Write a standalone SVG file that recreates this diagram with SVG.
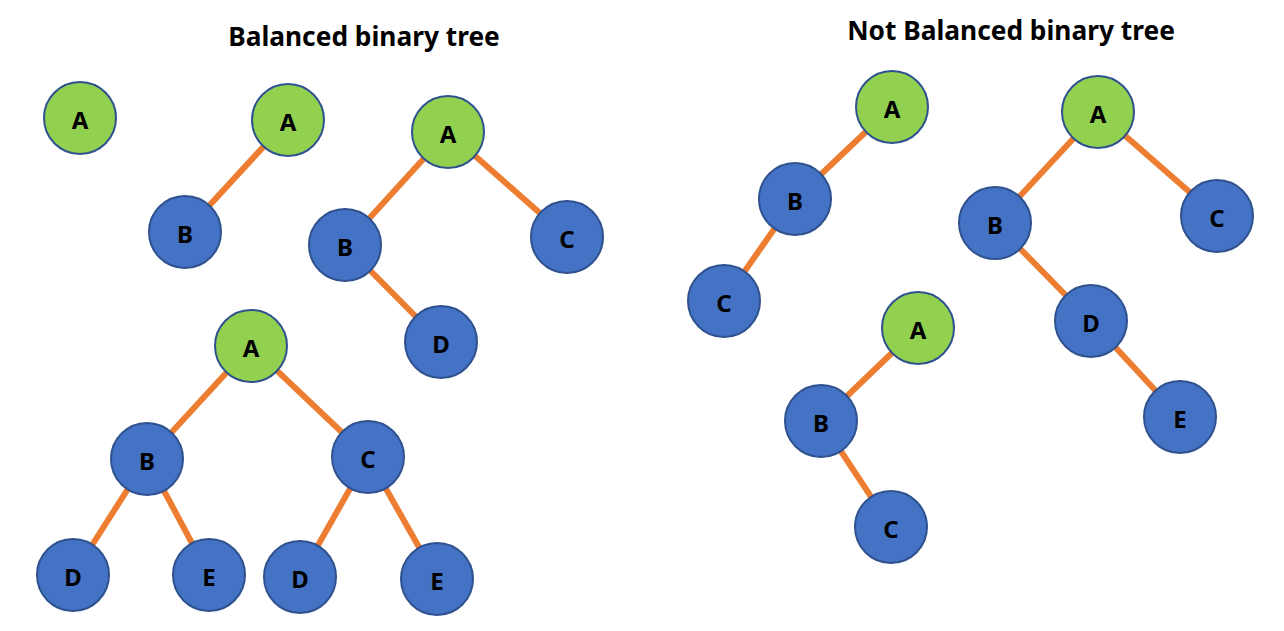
<svg xmlns="http://www.w3.org/2000/svg" width="1284" height="631" viewBox="0 0 1284 631">
<style>
.g{fill:#92D050;stroke:#2F528F;stroke-width:2}
.b{fill:#4472C4;stroke:#2F528F;stroke-width:2}
.t{font-family:"Noto Sans","DejaVu Sans",sans-serif;font-weight:bold;font-size:24px;fill:#000;text-anchor:middle;dominant-baseline:central}
.h{font-family:"Noto Sans","DejaVu Sans",sans-serif;font-weight:bold;font-size:26.3px;fill:#000;text-anchor:middle}
#edges line{stroke:#ED7D31;stroke-width:6}
</style>
<rect width="1284" height="631" fill="#fff"/>
<text class="h" x="364" y="46">Balanced binary tree</text>
<text class="h" x="1011" y="40">Not Balanced binary tree</text>
<g id="edges">
<line x1="288" y1="120" x2="185" y2="232"/>
<line x1="448" y1="132" x2="345" y2="245"/>
<line x1="448" y1="132" x2="567" y2="237"/>
<line x1="345" y1="245" x2="441" y2="342"/>
<line x1="251" y1="346" x2="147" y2="459"/>
<line x1="251" y1="346" x2="368" y2="457"/>
<line x1="147" y1="459" x2="73" y2="575"/>
<line x1="147" y1="459" x2="209" y2="575"/>
<line x1="368" y1="457" x2="300" y2="577"/>
<line x1="368" y1="457" x2="437" y2="579"/>
<line x1="892" y1="107" x2="795" y2="199"/>
<line x1="795" y1="199" x2="724" y2="301"/>
<line x1="918" y1="328" x2="821" y2="421"/>
<line x1="821" y1="421" x2="891" y2="527"/>
<line x1="1098" y1="112" x2="995" y2="223"/>
<line x1="1098" y1="112" x2="1217" y2="216"/>
<line x1="995" y1="223" x2="1091" y2="321"/>
<line x1="1091" y1="321" x2="1180" y2="417"/>
</g>
<g id="t1A"><circle class="g" cx="80" cy="118" r="36"/><text class="t" x="80" y="119">A</text></g>
<g id="t2A"><circle class="g" cx="288" cy="120" r="36"/><text class="t" x="288" y="121">A</text></g>
<g id="t2B"><circle class="b" cx="185" cy="232" r="36"/><text class="t" x="185" y="233">B</text></g>
<g id="t3A"><circle class="g" cx="448" cy="132" r="36"/><text class="t" x="448" y="133">A</text></g>
<g id="t3B"><circle class="b" cx="345" cy="245" r="36"/><text class="t" x="345" y="246">B</text></g>
<g id="t3C"><circle class="b" cx="567" cy="237" r="36"/><text class="t" x="567" y="238">C</text></g>
<g id="t3D"><circle class="b" cx="441" cy="342" r="36"/><text class="t" x="441" y="343">D</text></g>
<g id="t4A"><circle class="g" cx="251" cy="346" r="36"/><text class="t" x="251" y="347">A</text></g>
<g id="t4B"><circle class="b" cx="147" cy="459" r="36"/><text class="t" x="147" y="460">B</text></g>
<g id="t4C"><circle class="b" cx="368" cy="457" r="36"/><text class="t" x="368" y="458">C</text></g>
<g id="t4D1"><circle class="b" cx="73" cy="575" r="36"/><text class="t" x="73" y="576">D</text></g>
<g id="t4E1"><circle class="b" cx="209" cy="575" r="36"/><text class="t" x="209" y="576">E</text></g>
<g id="t4D2"><circle class="b" cx="300" cy="577" r="36"/><text class="t" x="300" y="578">D</text></g>
<g id="t4E2"><circle class="b" cx="437" cy="579" r="36"/><text class="t" x="437" y="580">E</text></g>
<g id="t5A"><circle class="g" cx="892" cy="107" r="36"/><text class="t" x="892" y="108">A</text></g>
<g id="t5B"><circle class="b" cx="795" cy="199" r="36"/><text class="t" x="795" y="200">B</text></g>
<g id="t5C"><circle class="b" cx="724" cy="301" r="36"/><text class="t" x="724" y="302">C</text></g>
<g id="t6A"><circle class="g" cx="918" cy="328" r="36"/><text class="t" x="918" y="329">A</text></g>
<g id="t6B"><circle class="b" cx="821" cy="421" r="36"/><text class="t" x="821" y="422">B</text></g>
<g id="t6C"><circle class="b" cx="891" cy="527" r="36"/><text class="t" x="891" y="528">C</text></g>
<g id="t7A"><circle class="g" cx="1098" cy="112" r="36"/><text class="t" x="1098" y="113">A</text></g>
<g id="t7B"><circle class="b" cx="995" cy="223" r="36"/><text class="t" x="995" y="224">B</text></g>
<g id="t7C"><circle class="b" cx="1217" cy="216" r="36"/><text class="t" x="1217" y="217">C</text></g>
<g id="t7D"><circle class="b" cx="1091" cy="321" r="36"/><text class="t" x="1091" y="322">D</text></g>
<g id="t7E"><circle class="b" cx="1180" cy="417" r="36"/><text class="t" x="1180" y="418">E</text></g>
</svg>
